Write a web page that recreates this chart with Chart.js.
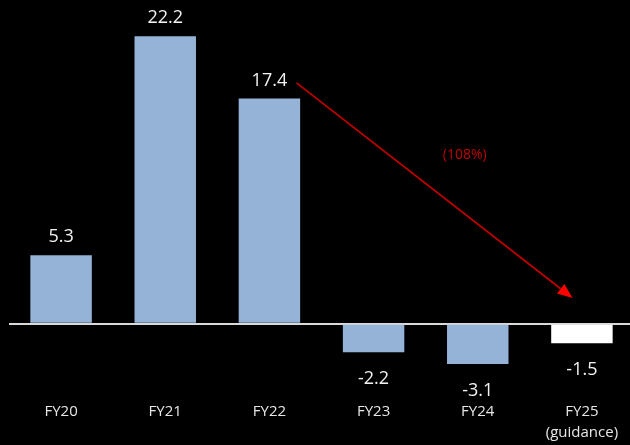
<!DOCTYPE html>
<html>
<head>
<meta charset="utf-8">
<script src="https://cdn.jsdelivr.net/npm/chart.js@4"></script>
<style>
html,body{margin:0;padding:0;background:#000;overflow:hidden;}
#wrap{width:630px;height:445px;position:relative;overflow:hidden;}
</style>
</head>
<body>
<div id="wrap"><canvas id="c" width="636" height="445"></canvas></div>
<script>
const categories = [["FY20"], ["FY21"], ["FY22"], ["FY23"], ["FY24"], ["FY25", "(guidance)"]];
const values = [5.3, 22.2, 17.4, -2.2, -3.1, -1.5];
const valueLabels = ["5.3", "22.2", "17.4", "-2.2", "-3.1", "-1.5"];
const barColors = ["#95b3d7", "#95b3d7", "#95b3d7", "#95b3d7", "#95b3d7", "#ffffff"];
const arrowFrom = [2.26, 18.6];
const arrowTo = [4.91, 2.0];
const arrowLabel = "(108%)";
const arrowLabelAt = [3.875, 13.0];

const FONT = "'Open Sans', 'Liberation Sans', sans-serif";

const labelsPlugin = {
  id: 'valueLabels',
  afterDatasetsDraw(chart) {
    const ctx = chart.ctx;
    const meta = chart.getDatasetMeta(0);
    ctx.save();
    ctx.font = "18px " + FONT;
    ctx.fillStyle = "#f2f2f2";
    ctx.textAlign = "center";
    ctx.textBaseline = "middle";
    meta.data.forEach((bar, i) => {
      const v = values[i];
      const y = v >= 0 ? bar.y - 18 : bar.y + 27;
      ctx.fillText(valueLabels[i], bar.x, y);
    });
    ctx.restore();
  }
};

const arrowPlugin = {
  id: 'arrow',
  afterDraw(chart) {
    const ctx = chart.ctx;
    const xs = chart.scales.x, ys = chart.scales.y;
    const x1 = xs.getPixelForValue(arrowFrom[0]), y1 = ys.getPixelForValue(arrowFrom[1]);
    const x2 = xs.getPixelForValue(arrowTo[0]), y2 = ys.getPixelForValue(arrowTo[1]);
    const ang = Math.atan2(y2 - y1, x2 - x1);
    const L = 15, W = 6;
    const bx = x2 - L * Math.cos(ang), by = y2 - L * Math.sin(ang);
    ctx.save();
    ctx.strokeStyle = "#c00000";
    ctx.lineWidth = 1.8;
    ctx.beginPath();
    ctx.moveTo(x1, y1);
    ctx.lineTo(bx, by);
    ctx.stroke();
    ctx.fillStyle = "#ff0000";
    ctx.beginPath();
    ctx.moveTo(x2, y2);
    ctx.lineTo(bx + W * Math.sin(ang), by - W * Math.cos(ang));
    ctx.lineTo(bx - W * Math.sin(ang), by + W * Math.cos(ang));
    ctx.closePath();
    ctx.fill();
    ctx.font = "14px " + FONT;
    ctx.fillStyle = "#c00000";
    ctx.textAlign = "center";
    ctx.textBaseline = "middle";
    ctx.fillText(arrowLabel, xs.getPixelForValue(arrowLabelAt[0]), ys.getPixelForValue(arrowLabelAt[1]));
    ctx.restore();
  }
};

new Chart(document.getElementById('c'), {
  type: 'bar',
  data: {
    labels: categories,
    datasets: [{
      data: values,
      backgroundColor: barColors,
      borderWidth: 0,
      barPercentage: 0.59,
      categoryPercentage: 1.0
    }]
  },
  options: {
    responsive: false,
    animation: false,
    devicePixelRatio: 1,
    layout: { padding: { left: 9, right: 2, top: 0, bottom: 0 } },
    plugins: { legend: { display: false }, tooltip: { enabled: false } },
    scales: {
      x: {
        grid: { display: false, drawTicks: false },
        border: { display: false },
        ticks: {
          color: "#e6e6e6",
          font: { family: FONT, size: 15, lineHeight: 1.4 },
          padding: 2,
          maxRotation: 0,
          autoSkip: false
        }
      },
      y: {
        min: -5.8,
        max: 25,
        grid: {
          drawTicks: false,
          lineWidth: (c) => (c.tick && c.tick.value === 0 ? 2 : 0),
          color: (c) => (c.tick && c.tick.value === 0 ? "#d9d9d9" : "rgba(0,0,0,0)")
        },
        border: { display: false },
        ticks: { display: false, stepSize: 5 }
      }
    }
  },
  plugins: [labelsPlugin, arrowPlugin, {
    id: 'bg',
    beforeDraw(chart) {
      const ctx = chart.ctx;
      ctx.save();
      ctx.fillStyle = "#000";
      ctx.fillRect(0, 0, chart.width, chart.height);
      ctx.restore();
    }
  }]
});
</script>
</body>
</html>
